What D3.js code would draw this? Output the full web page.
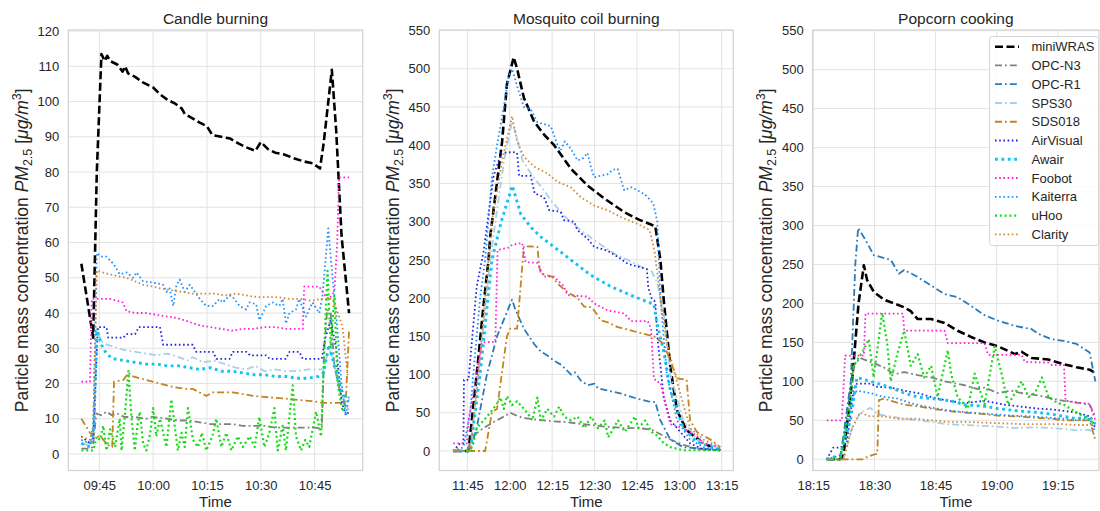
<!DOCTYPE html>
<html>
<head>
<meta charset="utf-8">
<script src="https://cdn.jsdelivr.net/npm/d3@7"></script>
<style>
  body { margin: 0; background: #fff; }
  svg text { font-family: "Liberation Sans", Arial, sans-serif; fill: #262626; }
</style>
</head>
<body>
<svg id="chart" width="1100" height="511"></svg>
<script>
// sensors, in legend order
let sensors = ['miniWRAS', 'OPC-N3', 'OPC-R1', 'SPS30', 'SDS018', 'AirVisual', 'Awair', 'Foobot', 'Kaiterra', 'uHoo', 'Clarity']
let sensorColors = ['#000000', '#808080', '#2b7bba', '#a8d0e6', '#c0851f', '#2121e0', '#12c2f2', '#ff1fdc', '#1e8fff', '#14dc14', '#d08a3a']
let sensorStyles = ['dashed', 'dashdot', 'dashdot', 'dashdot', 'dashdot', 'dotted', 'dottedBold', 'dotted', 'dotted', 'dottedMid', 'dotted']

// tick labels
let candleXTicks = ['09:45', '10:00', '10:15', '10:30', '10:45']
let mosquitoXTicks = ['11:45', '12:00', '12:15', '12:30', '12:45', '13:00', '13:15']
let popcornXTicks = ['18:15', '18:30', '18:45', '19:00', '19:15']
let candleYTicks = [0, 10, 20, 30, 40, 50, 60, 70, 80, 90, 100, 110, 120]
let mosquitoYTicks = [0, 50, 100, 150, 200, 250, 300, 350, 400, 450, 500, 550]
let popcornYTicks = [0, 50, 100, 150, 200, 250, 300, 350, 400, 450, 500, 550]

// [minutes after panel start, PM2.5 in ug/m3]
// Candle burning, start 09:40
let candleMiniWRAS = [[0,54],[3.3,33],[4.3,80],[5.6,113.5],[6.5,111.5],[7.2,113],[8,111.5],[10,110.5],[11.5,108.5],[12.2,110],[13,108],[15,107],[17,105.5],[20,104],[22,102],[24,100.5],[26,99.5],[28,98],[28.8,96.5],[30.5,95.5],[33,94],[35,93],[36.5,90.5],[39,90],[41.5,89.5],[44,88],[46,87],[48.5,86],[50,88.5],[52,86.5],[54,85.5],[56.5,85],[59,84],[62,83],[64.5,82.5],[66.5,81],[67.5,88],[69.8,109],[71,92],[72.5,62],[74.6,40]]
let candleOpcN3 = [[0,1.5],[2.4,1.5],[3.2,2],[4.2,11.5],[5.5,11],[7,12],[8.5,11],[10,11.5],[12,10.5],[15,10.5],[18,10],[20,10.5],[24,10],[27,9.5],[30,9.5],[33,9],[36,8.5],[39,8.5],[42,8.5],[45,8],[48,8],[51,8],[54,7.5],[58,7.5],[62,7.5],[65,7.5],[67,7.3],[67.7,30],[68.5,41],[69.5,40],[70.5,25],[72,18],[74,12.5]]
let candleOpcR1 = []
let candleSps30 = [[0,3],[2.4,2.5],[3.5,5],[4.3,36],[5.5,32],[7,31],[9,30.5],[12,29.5],[15,29],[18,28.5],[21,28],[24,28.5],[27,27.5],[30,26.5],[31,27.5],[34,26],[37,26.5],[40,25.5],[43,24.5],[46,24],[48.5,25],[51,23.5],[54,24],[57,23.5],[60,23.5],[63,24],[66,24],[67.5,24],[69,30],[70.5,26],[72,18],[74.5,12.5]]
let candleSds018 = [[0,10],[2.4,6],[4.3,5],[5.5,5],[6.1,4],[8,2],[8.6,2],[9.1,20.5],[11.7,21],[13.1,23],[14.4,22],[18,21],[21.9,20],[25.6,19],[29,18.5],[31,18.5],[34.8,16.5],[36.7,17.5],[40,17.5],[42.2,17.5],[45,17],[47.8,16.5],[51,16.2],[53.3,16],[56,15.8],[58.9,15.5],[62,15.2],[64.4,15],[67.2,14.5],[70,14.5],[72.8,14.5],[73.7,15],[74.6,35]]
let candleAirVisual = [[0,5],[2.4,3],[3.3,4],[4.6,36],[7,36],[7.5,33],[11.7,33],[12.5,34],[15,34],[16,36],[21.9,36],[22.8,31],[31,31],[32,29],[36.7,29],[37.6,27],[41.3,27],[42.2,29],[46,29],[47,28],[51.5,28],[52.5,27],[57,27],[58,29],[60.7,29],[61.7,27],[67,27],[68,33],[69.5,38],[71,30],[72.5,15],[73.7,11],[74.6,12]]
let candleAwair = [[0,3],[2.4,2],[3.5,8],[4.3,35],[5,33],[6,30],[7.5,28],[9,27],[12,26.5],[15,26],[18,25.5],[21,25.5],[24,25],[27,25],[30,24.5],[33,24],[36,24.5],[39,23.5],[42,23.5],[45,23],[48,22.5],[51,22.5],[54,22],[57,22],[60,21.5],[63,21.5],[66,22],[67.5,23],[69,31],[70.5,25],[72.5,18],[74.5,15]]
let candleFoobot = [[0,20.5],[2.4,20.5],[2.9,44],[8,44],[10,43.5],[11.5,43],[12.6,40.5],[15,40],[18,40],[21,39.5],[24,39],[27,38.5],[30,37.5],[33,36.5],[36,36],[39,35.5],[42,35],[45,35.5],[48,35.5],[51,36],[54,36],[57,35.5],[61.7,35.5],[62.1,47.5],[66.3,47.5],[67.5,45.5],[69,44],[70.5,46],[71.3,60],[71.8,78.5],[74.6,78.5]]
let candleKaiterra = [[0,4],[2.4,3],[3.3,6],[4.3,57],[5.5,56],[7,56],[8.9,54],[10.7,51],[12.6,51.5],[14.4,50],[15.4,51.5],[17.2,49],[20.9,48.5],[22.8,48],[23.7,46],[24.6,47],[25.6,42],[26.5,48],[27.4,49.5],[28.8,46],[30.2,48],[32,45.5],[33,44],[34.8,42],[36.7,42],[38.5,44],[39.4,43],[41.3,45],[42.2,44.5],[44.1,42],[45.9,41],[46.9,43],[48.7,42.5],[49.6,38],[50.6,40],[51.5,42],[53.3,43],[55.2,42],[56.1,44],[57,37],[58,40],[59.8,41],[60.7,44],[62.6,39],[64.4,43],[66.3,40],[67.2,45],[68.8,64],[70,50],[71,40],[72.5,20],[73.7,11],[74.6,17]]
let candleUHoo = [[0,1],[3.3,1],[4.3,5],[5.2,4],[6.1,8],[7,1],[8,7],[9.4,2],[10.7,10],[11.2,1],[12.2,12],[13.1,23.5],[14,10],[14.9,1],[15.6,8],[16.3,12],[17.2,3],[18.1,1],[19.2,6],[20,13],[20.9,5],[21.9,10],[23.7,2],[25.1,15.5],[26,8],[26.9,1],[27.9,6],[28.8,2],[29.7,13],[31.1,4],[32.5,2],[33.6,6],[34.8,1],[36.5,5],[37.6,10],[39,2],[40.4,6],[41.8,1],[43.6,5],[45,2],[46.9,5],[48.3,2],[49.6,10.5],[51,2],[52.4,6],[53.8,13],[54.7,1],[56.1,8],[57,1],[58.9,19.5],[59.8,5],[61.2,1],[62.4,4],[63.5,2],[65.4,12],[66.8,5],[67.7,30],[68.6,52],[69.5,30],[70.5,45],[71.4,20],[72.8,12],[73.7,14]]
let candleClarity = [[0,5],[2.4,4],[3.3,8],[4.3,52],[6,51.5],[8,51],[10,50.5],[12.6,50],[15,49],[17.2,48],[20,47.5],[22,47],[25,46.5],[28,46],[31,45.5],[34,45.5],[37,45.5],[40,45],[43,45.5],[46,45],[49,44.5],[52,44.5],[55,44.5],[58,44],[61,44],[64,43.5],[67,44],[70,44],[71.5,40],[72.8,36],[74.2,22]]

// Mosquito coil burning, start 11:40
let mosquitoMiniWRAS = [[0,0],[5.4,0],[8.3,100],[10.7,190],[12.5,250],[13.1,281],[17.3,405],[19,480],[21.4,515],[22.6,500],[25,462],[28.6,431],[32.1,414],[35.7,400],[41.7,369],[47.6,347],[53.6,330],[60.7,312],[65.5,303],[71.5,294],[73.3,250],[74.5,197],[76.8,110],[79.2,53],[82.6,27],[88.5,10],[94.5,1]]
let mosquitoOpcN3 = [[0,0],[4.8,0],[7.1,20],[10.7,30],[14.3,38],[17.9,45],[20.2,50],[22.6,46],[25,43],[29.8,41],[34.5,39],[39.3,38],[44,36],[48.8,34],[53.6,32],[60.7,30],[65.5,30],[70.2,28],[73.3,22],[76.8,15],[81.4,8],[86.2,3],[94.5,1]]
let mosquitoOpcR1 = [[0,0],[6,0],[8.3,30],[11.9,100],[15.5,150],[20.8,198],[22,185],[25,160],[28.6,140],[31,130],[33.3,125],[35.7,118],[38.1,113],[41.7,100],[43,103],[45.2,92],[47.6,86],[50,88],[51.2,82],[53.6,80],[57.1,77],[59.5,75],[61.9,72],[65.5,68],[69,65],[71.5,64],[73.3,40],[76.8,15],[81.4,5],[94.5,1]]
let mosquitoSps30 = [[0,0],[6,0],[8.9,100],[13.1,250],[14.9,300],[18,380],[20.8,431],[22.6,410],[24.5,380],[28,360],[32.1,341],[34.5,328],[38,313],[40.5,303],[45.1,289],[51,273],[57,258],[61.7,250],[66.4,241],[70.2,235],[72.2,220],[74.5,180],[76.8,100],[81.4,40],[86.2,15],[94.5,3]]
let mosquitoSds018 = [[0,0],[11.3,0],[13.7,51],[15.5,55],[19,150],[20.2,160],[22.6,160],[23.5,200],[25,268],[29.8,267],[30.5,240],[31,232],[35,228],[36.9,219],[39,212],[41.7,205],[44,200],[46.3,189],[49,188],[51,178],[52.2,171],[55,168],[58.2,162],[60.7,160],[65.5,155],[71,150],[74.5,140],[79.2,95],[82.6,93],[83.8,40],[86.2,25],[88.5,20],[91,15],[94.5,5]]
let mosquitoAirVisual = [[0,0],[2.4,10],[3.6,10],[3.8,93],[5.4,93],[8.3,215],[10.7,260],[14.3,360],[17,390],[21,391],[22.6,390],[23.3,360],[27.4,360],[28.8,337],[32.1,332],[34,315],[38,313],[39.2,302],[42.8,300],[43.9,289],[47.5,278],[49.9,267],[54.6,262],[58.2,254],[61.7,245],[66.4,240],[68.5,238],[69,214],[70.2,200],[71.5,195],[72.2,150],[74.5,70],[76.8,40],[79.2,30],[83.8,10],[88.5,2],[94.5,1]]
let mosquitoAwair = [[0,0],[6,0],[9.5,100],[13.7,250],[17,300],[20.9,347],[23.9,310],[27.4,293],[31,280],[35.7,267],[41.6,250],[48.7,230],[55.8,215],[64,202],[68.8,195],[71,192],[72.2,165],[74.5,130],[76.8,80],[81.4,30],[86.2,12],[94.5,1]]
let mosquitoFoobot = [[0,10],[4.8,10],[5.4,40],[8.3,100],[10.1,142],[14.9,143],[15.7,263],[19.6,266],[21,270],[24.4,272],[25.6,247],[29.8,246],[32.1,228],[35.7,228],[39.2,215],[40.4,204],[47.5,202],[49.9,193],[54.6,184],[60.5,180],[62.9,170],[68.8,170],[70,160],[71,95],[72.2,90],[73.3,90],[74.5,70],[76.8,35],[81.4,30],[86.2,20],[88.5,10],[94.5,5]]
let mosquitoKaiterra = [[0,0],[3.6,5],[6,50],[7.1,100],[9.5,200],[11.3,250],[13.7,358],[15.5,400],[17.9,450],[19.6,490],[20.8,500],[23.2,470],[25,450],[27.4,447],[29.8,430],[34.5,425],[36.9,400],[38,393],[39.5,405],[41.7,395],[44,380],[46,383],[47.5,390],[48.8,370],[49.9,358],[52,360],[54.6,362],[56.5,368],[58.2,369],[60.5,341],[62.9,345],[65.2,341],[68,335],[70.8,324],[72.2,300],[73.3,200],[75.6,100],[79.2,40],[83.8,15],[88.5,5],[94.5,1]]
let mosquitoUHoo = [[0,0],[6,0],[7.1,10],[8.3,30],[10.7,40],[13.1,50],[15.5,62],[16.7,70],[17.9,55],[19,72],[20.8,60],[22.6,65],[23.8,60],[26.2,50],[28,40],[29.8,70],[31,40],[33.3,55],[35.7,45],[37.5,58],[39.3,45],[41.7,40],[44,45],[46.4,30],[48.8,45],[51.2,30],[53.6,40],[54.8,18],[56,25],[58.3,40],[60.7,25],[64.3,45],[65.5,30],[67.9,40],[70.2,25],[72.2,20],[74.5,10],[76.8,5],[81.4,1],[94.5,1]]
let mosquitoClarity = [[0,0],[6,0],[8.9,100],[12.5,250],[13.7,300],[17.3,380],[20.8,438],[22.6,405],[25,385],[28.6,372],[33.3,363],[36.9,352],[41.6,345],[45.1,332],[49.9,321],[54.6,315],[59.3,306],[65.2,297],[69.5,289],[71.2,262],[73.3,200],[75.6,140],[79.2,90],[83.8,30],[88.5,15],[94.5,5]]

// Popcorn cooking, start 18:15
let popcornMiniWRAS = [[3.3,0],[6.6,0],[7.4,5],[9.5,100],[11.1,200],[12.4,249],[13.2,230],[14.8,215],[17.3,205],[19.8,200],[22.3,195],[23.9,190],[25.6,180],[28.9,180],[32.2,175],[35.4,165],[38.7,157],[42,150],[45.3,145],[49.5,135],[51.1,138],[53.6,130],[57.7,128],[61.5,122],[64.6,118],[67.8,115],[68.8,112]]
let popcornOpcN3 = [[3.3,0],[6.6,0],[9.9,120],[11.5,130],[14,125],[17.3,118],[19,112],[20.6,110],[22.3,112],[25.6,108],[28.9,105],[32.2,100],[37.1,95],[40.4,90],[42,92],[45.3,85],[48.6,88],[51.1,85],[55.2,82],[58.5,78],[61.5,75],[65.5,72],[67.8,70],[69.2,55]]
let popcornOpcR1 = [[3.3,0],[6.6,0],[9.2,100],[10.3,250],[11,297],[12.4,285],[14,270],[14.8,262],[19,256],[21,238],[22.3,243],[25.6,234],[28.9,223],[32.2,212],[35.4,208],[38.7,197],[42,185],[45.3,178],[49.5,171],[53.6,167],[55.2,161],[58.5,154],[61.5,152],[64.6,148],[67.8,137],[69.2,100]]
let popcornSps30 = [[3.3,0],[7.4,0],[9.5,40],[11.5,60],[14,66],[15.7,58],[19,55],[22.3,52],[25.6,50],[28.9,48],[33,45],[37.1,44],[41.2,43],[45.3,42],[49.5,40],[53.6,41],[58.5,40],[61.5,39],[64.6,37],[67.8,38],[69.2,30]]
let popcornSds018 = [[3.3,0],[12.4,0],[13.2,3],[14.8,6],[15.7,7],[16.1,76],[17.3,78],[19,75],[22.3,70],[25.6,68],[28.9,65],[33,62],[37.1,60],[42,58],[45.3,56],[50.3,55],[55.2,53],[58.5,52],[61.5,50],[64.6,50],[67.8,50],[69.2,25]]
let popcornAirVisual = [[3.3,0],[4.9,15],[6.6,15],[8.2,20],[9.9,90],[10.7,97],[14,97],[15.7,93],[19,92],[22.3,88],[25.6,85],[28.9,80],[33,75],[37.1,72],[42,75],[47,70],[50.3,68],[55.2,65],[58.5,64],[61.5,62],[64.6,60],[67.8,55],[69.2,40]]
let popcornAwair = [[3.3,0],[6.6,5],[9.1,50],[10.7,105],[14,100],[17.3,95],[22.3,85],[25.6,80],[28.9,78],[33.8,75],[37.1,70],[42,68],[45.3,65],[50.3,62],[55.2,60],[58.5,58],[61.5,55],[64.6,52],[67.8,55],[69.2,45]]
let popcornFoobot = [[3.3,50],[7,50],[7.8,133],[12.4,133],[12.8,187],[22,187],[22.3,165],[32.2,165],[33,149],[42,149],[42.9,134],[51.1,134],[51.9,125],[57.7,124],[58.5,121],[61.5,121],[61.9,75],[66.3,72],[67.8,71],[69.2,50]]
let popcornKaiterra = [[3.3,0],[6.6,5],[9.5,80],[10.7,88],[14,85],[17.3,80],[20.6,78],[23.9,72],[27.2,68],[30.5,65],[33.8,62],[38.7,60],[43.7,58],[48.6,56],[53.6,55],[58.5,53],[61.5,52],[64.6,50],[67.8,52],[69.2,35]]
let popcornUHoo = [[3.3,0],[6.6,0],[8.7,60],[9.9,120],[12.4,141],[13.6,154],[14.8,105],[16.9,188],[18.1,150],[19,100],[20.6,135],[22.3,165],[23.9,120],[25.6,135],[27.2,105],[28.9,120],[30.5,80],[33,140],[33.8,110],[35.4,80],[37.9,65],[39.6,110],[42,70],[44.5,145],[46.2,110],[47.8,70],[49.5,85],[51.1,100],[52.8,80],[54.4,85],[56.1,105],[57.7,80],[60,72],[61.5,70],[64.6,60],[66.3,55],[67.8,50],[69.2,45]]
let popcornClarity = [[3.3,0],[7.4,0],[9.5,40],[11.5,60],[14,55],[17.3,55],[20.6,52],[25.6,52],[28.9,50],[33,48],[37.1,48],[42,47],[47,46],[51.9,45],[56.9,45],[61.5,45],[64.6,44],[69.2,44]]

let lineStyles = {
    dashed: {dash: '8,3.5', width: 2.6},
    dashdot: {dash: '7,3,1.8,3', width: 1.8},
    dotted: {dash: '1.6,2.6', width: 1.8},
    dottedMid: {dash: '2,2.8', width: 2.2},
    dottedBold: {dash: '2.8,3.6', width: 2.9}
}

let panels = [
    {
        title: 'Candle burning', start: '09:40',
        series: [candleMiniWRAS, candleOpcN3, candleOpcR1, candleSps30, candleSds018, candleAirVisual, candleAwair, candleFoobot, candleKaiterra, candleUHoo, candleClarity],
        xTicks: candleXTicks, yTicks: candleYTicks,
        left: 68.3, right: 362.7, xDomain: [-3.64, 78.4], yDomain: [-4.68, 120.3]
    },
    {
        title: 'Mosquito coil burning', start: '11:40',
        series: [mosquitoMiniWRAS, mosquitoOpcN3, mosquitoOpcR1, mosquitoSps30, mosquitoSds018, mosquitoAirVisual, mosquitoAwair, mosquitoFoobot, mosquitoKaiterra, mosquitoUHoo, mosquitoClarity],
        xTicks: mosquitoXTicks, yTicks: mosquitoYTicks,
        left: 439.3, right: 733.3, xDomain: [-4.93, 99.1], yDomain: [-25.5, 550.7]
    },
    {
        title: 'Popcorn cooking', start: '18:15',
        series: [popcornMiniWRAS, popcornOpcN3, popcornOpcR1, popcornSps30, popcornSds018, popcornAirVisual, popcornAwair, popcornFoobot, popcornKaiterra, popcornUHoo, popcornClarity],
        xTicks: popcornXTicks, yTicks: popcornYTicks,
        left: 812.7, right: 1099, xDomain: [-0.15, 70.1], yDomain: [-14.4, 550.9],
        legend: true
    }
]

let plotTop = 30, plotBottom = 470.5
let parseTime = d3.timeParse('%H:%M')
let svg = d3.select('#chart')

function drawPanel(p, idx) {
    let t0 = parseTime(p.start)
    let toDate = (m) => new Date(t0.getTime() + m * 60000)

    let x = d3.scaleTime()
        .domain(p.xDomain.map(toDate))
        .range([p.left, p.right])
    let y = d3.scaleLinear()
        .domain(p.yDomain)
        .range([plotBottom, plotTop])
    let xTickDates = p.xTicks.map(parseTime)

    let g = svg.append('g')

    // grid
    g.selectAll('.hgrid')
        .data(p.yTicks)
        .enter().append('line')
        .attr('x1', p.left).attr('x2', p.right)
        .attr('y1', d => y(d)).attr('y2', d => y(d))
        .attr('stroke', '#e3e3e3').attr('stroke-width', 1)
    g.selectAll('.vgrid')
        .data(xTickDates)
        .enter().append('line')
        .attr('x1', d => x(d)).attr('x2', d => x(d))
        .attr('y1', plotTop).attr('y2', plotBottom)
        .attr('stroke', '#e3e3e3').attr('stroke-width', 1)

    g.append('rect')
        .attr('x', p.left).attr('y', plotTop)
        .attr('width', p.right - p.left).attr('height', plotBottom - plotTop)
        .attr('fill', 'none').attr('stroke', '#d2d2d2').attr('stroke-width', 1.2)

    let clipId = 'clip' + idx
    svg.append('clipPath').attr('id', clipId)
        .append('rect')
        .attr('x', p.left).attr('y', plotTop)
        .attr('width', p.right - p.left).attr('height', plotBottom - plotTop)

    let line = d3.line()
        .x(d => x(toDate(d[0])))
        .y(d => y(d[1]))

    let lines = g.append('g').attr('clip-path', 'url(#' + clipId + ')')
    p.series.forEach((data, i) => {
        if (!data.length) return
        let st = lineStyles[sensorStyles[i]]
        lines.append('path')
            .datum(data)
            .attr('d', line)
            .attr('fill', 'none')
            .attr('stroke', sensorColors[i])
            .attr('stroke-width', st.width)
            .attr('stroke-dasharray', st.dash)
            .attr('stroke-linejoin', 'round')
    })

    // axes
    let xAxis = g.append('g')
        .attr('transform', 'translate(0,' + plotBottom + ')')
        .call(d3.axisBottom(x).tickValues(xTickDates).tickFormat(d3.timeFormat('%H:%M')).tickSize(0).tickPadding(10))
    let yAxis = g.append('g')
        .attr('transform', 'translate(' + p.left + ',0)')
        .call(d3.axisLeft(y).tickValues(p.yTicks).tickSize(0).tickPadding(9))
    ;[xAxis, yAxis].forEach(a => {
        a.select('.domain').remove()
        a.selectAll('text')
            .style('font-family', '"Liberation Sans", Arial, sans-serif')
            .style('font-size', '13px')
            .attr('fill', '#262626')
    })

    let cx = (p.left + p.right) / 2
    g.append('text')
        .attr('x', cx).attr('y', 24)
        .attr('text-anchor', 'middle')
        .style('font-size', '15.5px')
        .text(p.title)
    g.append('text')
        .attr('x', cx).attr('y', 507)
        .attr('text-anchor', 'middle')
        .style('font-size', '15px')
        .text('Time')

    let yl = g.append('text')
        .attr('transform', 'translate(' + (p.left - 40.5) + ',' + ((plotTop + plotBottom) / 2) + ') rotate(-90)')
        .attr('text-anchor', 'middle')
        .style('font-size', '17.5px')
    yl.append('tspan').text('Particle mass concentration ')
    yl.append('tspan').style('font-style', 'italic').text('PM')
    yl.append('tspan').attr('dy', 4).style('font-size', '12.5px').text('2.5')
    yl.append('tspan').attr('dy', -4).text(' [')
    yl.append('tspan').style('font-style', 'italic').text('\u03bcg/m')
    yl.append('tspan').attr('dy', -7).style('font-size', '12.5px').text('3')
    yl.append('tspan').attr('dy', 7).text(']')

    if (p.legend) drawLegend()
}

function drawLegend() {
    let lg = svg.append('g')
    lg.append('rect')
        .attr('x', 989.5).attr('y', 36.5)
        .attr('width', 109).attr('height', 209)
        .attr('rx', 3)
        .attr('fill', '#ffffff').attr('fill-opacity', 0.85)
        .attr('stroke', '#d5d5d5').attr('stroke-width', 1)
    sensors.forEach((name, i) => {
        let yy = 46.7 + i * 18.76
        let st = lineStyles[sensorStyles[i]]
        lg.append('line')
            .attr('x1', 995).attr('x2', 1019)
            .attr('y1', yy).attr('y2', yy)
            .attr('stroke', sensorColors[i])
            .attr('stroke-width', st.width)
            .attr('stroke-dasharray', st.dash)
        lg.append('text')
            .attr('x', 1031.5).attr('y', yy)
            .attr('dy', '0.36em')
            .attr('text-anchor', 'start')
            .style('font-size', '13px')
            .text(name)
    })
}

panels.forEach(drawPanel)
</script>
</body>
</html>
